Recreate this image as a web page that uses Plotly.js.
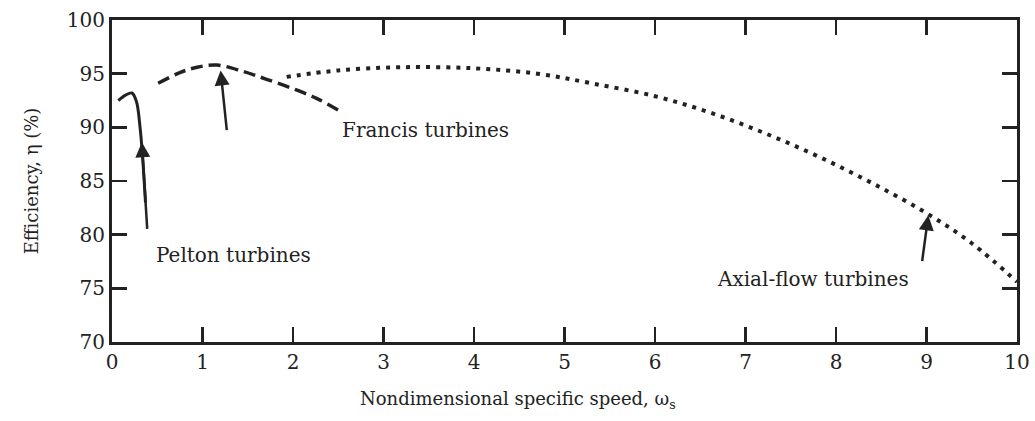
<!DOCTYPE html>
<html>
<head>
<meta charset="utf-8">
<script src="https://cdn.plot.ly/plotly-3.0.1.min.js"></script>
<style>html,body{margin:0;padding:0;background:#fff;}#chart{width:1035px;height:421px;}</style>
</head>
<body>
<div id="chart"></div>
<script>
// Pelton turbines (solid)
const peltonX = [0.07, 0.15, 0.22, 0.27, 0.31, 0.34, 0.37];
const peltonY = [92.5, 93.0, 93.2, 92.4, 90.0, 87.0, 83.0];
// Francis turbines (dashed)
const francisX = [0.51, 0.75, 0.94, 1.16, 1.45, 1.7, 2.0, 2.26, 2.5];
const francisY = [94.1, 95.1, 95.6, 95.8, 95.2, 94.5, 93.6, 92.7, 91.6];
// Axial-flow turbines (dotted)
const axialX = [1.93, 2.5, 3.2, 4.0, 4.7, 5.3, 6.0, 6.6, 7.2, 7.8, 8.4, 9.0, 9.5, 10.0];
const axialY = [94.7, 95.3, 95.6, 95.5, 95.0, 94.1, 92.9, 91.4, 89.5, 87.3, 84.8, 82.0, 79.2, 75.6];

const xTicks = [0,1,2,3,4,5,6,7,8,9,10];
const yTicks = [70,75,80,85,90,95,100];

const labels = ["Pelton turbines", "Francis turbines", "Axial-flow turbines"];
const labelX = [1.34, 3.46, 7.75];
const labelY = [78.1, 89.75, 75.9];
// arrows: head (on curve) and tail
const arrowHeadX = [0.33, 1.2, 9.02];
const arrowHeadY = [88.6, 95.3, 81.8];
const arrowTailX = [0.39, 1.27, 8.95];
const arrowTailY = [80.4, 89.6, 77.4];

const xTitle = "Nondimensional specific speed, ω<sub>s</sub>";
const yTitle = "Efficiency, η (%)";

const font = "DejaVu Serif, Liberation Serif, serif";
const ink = "#222";

const traces = [
  {x: peltonX, y: peltonY, mode: "lines", line: {color: ink, width: 3, shape: "spline"}, showlegend: false, hoverinfo: "skip"},
  {x: francisX, y: francisY, mode: "lines", line: {color: ink, width: 3.5, dash: "12px,6px", shape: "spline"}, showlegend: false, hoverinfo: "skip"},
  {x: axialX, y: axialY, mode: "lines", line: {color: ink, width: 4, dash: "4px,6px", shape: "spline"}, showlegend: false, hoverinfo: "skip"}
];

const annotations = [];
for (let i = 0; i < labels.length; i++) {
  annotations.push({x: labelX[i], y: labelY[i], xref: "x", yref: "y", text: labels[i], showarrow: false,
    font: {family: font, size: 20, color: ink}});
  annotations.push({x: arrowHeadX[i], y: arrowHeadY[i], xref: "x", yref: "y", ax: arrowTailX[i], ay: arrowTailY[i],
    axref: "x", ayref: "y", text: "", showarrow: true, arrowhead: 2, arrowsize: 1.2, arrowwidth: 2.5, arrowcolor: ink});
}
// x-axis title (offset left of centre, as in the reference)
annotations.push({x: 0.449, y: -0.18, xref: "paper", yref: "paper", xanchor: "center", yanchor: "middle",
  text: xTitle, showarrow: false, font: {family: font, size: 18, color: ink}});

const layout = {
  width: 1035, height: 421,
  margin: {l: 112, r: 18, t: 20, b: 79},
  paper_bgcolor: "#fff", plot_bgcolor: "#fff",
  font: {family: font, size: 20, color: ink},
  xaxis: {range: [0, 10], tickvals: xTicks, ticktext: xTicks.map(String), showgrid: false, zeroline: false,
    showline: true, linewidth: 3, linecolor: ink, mirror: "ticks", ticks: "inside", ticklen: 15, tickwidth: 2.5, tickcolor: ink,
    tickfont: {family: font, size: 20, color: ink}},
  yaxis: {range: [70, 100], tickvals: yTicks, ticktext: yTicks.map(String), showgrid: false, zeroline: false,
    showline: true, linewidth: 3, linecolor: ink, mirror: "ticks", ticks: "inside", ticklen: 15, tickwidth: 2.5, tickcolor: ink,
    title: {text: yTitle, font: {family: font, size: 18, color: ink}, standoff: 24},
    tickfont: {family: font, size: 20, color: ink}},
  annotations: annotations,
  showlegend: false
};

Plotly.newPlot("chart", traces, layout, {staticPlot: true, displayModeBar: false});
</script>
</body>
</html>
